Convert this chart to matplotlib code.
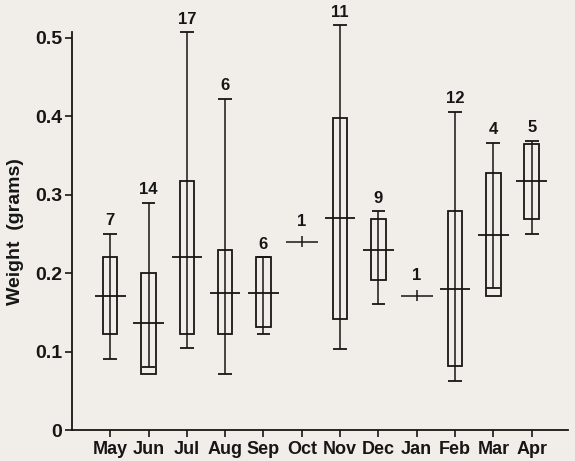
import numpy as np
import matplotlib
matplotlib.use('Agg')
import matplotlib.pyplot as plt

# Monthly weight summaries (grams)
months = ['May', 'Jun', 'Jul', 'Aug', 'Sep', 'Oct', 'Nov', 'Dec', 'Jan', 'Feb', 'Mar', 'Apr']
counts = [7, 14, 17, 6, 6, 1, 11, 9, 1, 12, 4, 5]
whisker_low = [0.09, 0.08, 0.105, 0.072, 0.122, np.nan, 0.103, 0.161, np.nan, 0.062, 0.181, 0.25]
box_low = [0.122, 0.071, 0.122, 0.122, 0.132, np.nan, 0.142, 0.191, np.nan, 0.082, 0.171, 0.269]
median = [0.171, 0.136, 0.22, 0.175, 0.175, 0.24, 0.27, 0.23, 0.171, 0.18, 0.249, 0.318]
box_high = [0.22, 0.20, 0.318, 0.229, 0.22, np.nan, 0.398, 0.269, np.nan, 0.279, 0.328, 0.364]
whisker_high = [0.25, 0.29, 0.507, 0.422, 0.22, np.nan, 0.516, 0.279, np.nan, 0.406, 0.366, 0.369]

ink = '#161616'
bg = '#f1eeea'
font = 'Liberation Sans'

x = np.arange(1, len(months) + 1)
wl = np.array(whisker_low)
bl = np.array(box_low)
md = np.array(median)
bh = np.array(box_high)
wh = np.array(whisker_high)
has_box = ~np.isnan(bl)

fig = plt.figure(figsize=(5.75, 4.61), dpi=100, facecolor=bg)
ax = fig.add_axes([0.125, 0.067, 0.863, 0.863], facecolor=bg)

lw = 1.3
# whiskers run through the boxes
ax.vlines(x[has_box], wl[has_box], wh[has_box], color=ink, lw=1.1, clip_on=False)
ax.hlines(wl[has_box], x[has_box] - 0.18, x[has_box] + 0.18, color=ink, lw=lw)
ax.hlines(wh[has_box], x[has_box] - 0.18, x[has_box] + 0.18, color=ink, lw=lw,
          clip_on=False)
ax.bar(x[has_box], bh[has_box] - bl[has_box], bottom=bl[has_box], width=0.38,
       fill=False, edgecolor=ink, linewidth=lw)
ax.hlines(md[has_box], x[has_box] - 0.4, x[has_box] + 0.4, color=ink, lw=lw)

# single observations
single = ~has_box
ax.hlines(md[single], x[single] - 0.42, x[single] + 0.42, color=ink, lw=1.1)
ax.vlines(x[single], md[single] - 0.007, md[single] + 0.007, color=ink, lw=1.1)

# sample sizes above each month
for xi, n, top, boxed in zip(x, counts, np.where(has_box, wh, md), has_box):
    ax.annotate(str(n), (xi, top), xytext=(0, 4 if boxed else 9), textcoords='offset points',
                ha='center', va='bottom', fontsize=12, fontweight='bold',
                family=font, color=ink, annotation_clip=False)

ax.set_xlim(0, 12.95)
ax.set_ylim(0, 0.507)
ax.set_xticks(x)
ax.set_xticklabels(months)
ax.set_yticks([0, 0.1, 0.2, 0.3, 0.4, 0.5])
ax.set_yticklabels(['0', '0.1', '0.2', '0.3', '0.4', '0.5'])
ax.tick_params(axis='x', length=5, width=1.2, color=ink, pad=3,
               labelsize=13, labelcolor=ink)
ax.tick_params(axis='y', length=5, width=1.2, color=ink, pad=2,
               labelsize=14, labelcolor=ink)
for lab in ax.get_xticklabels() + ax.get_yticklabels():
    lab.set_fontweight('bold')
    lab.set_family(font)

ax.set_ylabel('Weight  (grams)', fontsize=14, fontweight='bold', family=font,
              color=ink, labelpad=8)

for side in ['top', 'right']:
    ax.spines[side].set_visible(False)
for side in ['left', 'bottom']:
    ax.spines[side].set_linewidth(1.3)
    ax.spines[side].set_color(ink)

fig.savefig('out.png', dpi=100, facecolor=bg)
